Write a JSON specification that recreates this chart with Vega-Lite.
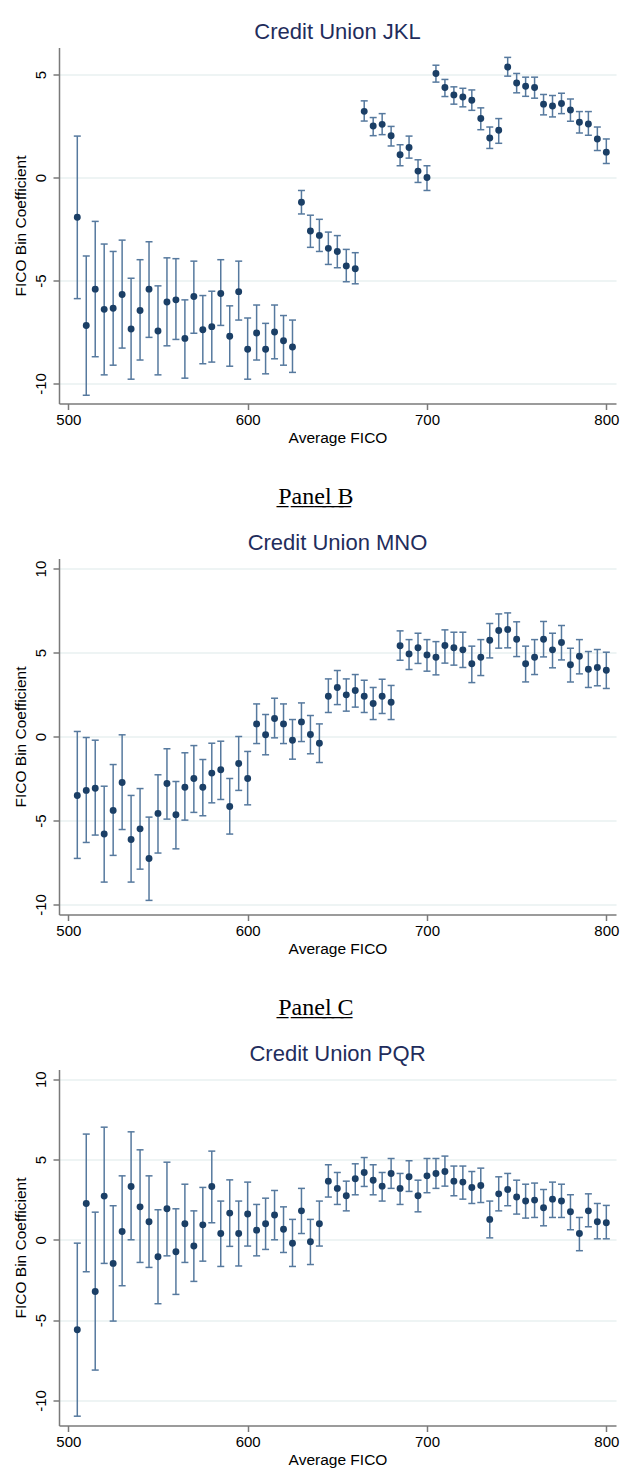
{
  "$schema": "https://vega.github.io/schema/vega-lite/v6.json",
  "padding": {"left": 12, "top": 20.5, "right": 4, "bottom": 4},
  "background": "white",
  "spacing": 38,
  "datasets": {
    "A": [
      {"f":505,"b":-1.93,"lo":-5.88,"hi":2.01},{"f":510,"b":-7.18,"lo":-10.57,"hi":-3.81},{"f":515,"b":-5.42,"lo":-8.70,"hi":-2.13},{"f":520,"b":-6.40,"lo":-9.58,"hi":-3.23},{"f":525,"b":-6.35,"lo":-9.11,"hi":-3.59},{"f":530,"b":-5.68,"lo":-8.28,"hi":-3.04},{"f":535,"b":-7.35,"lo":-9.79,"hi":-4.89},{"f":540,"b":-6.46,"lo":-8.86,"hi":-3.99},{"f":545,"b":-5.42,"lo":-7.76,"hi":-3.12},{"f":550,"b":-7.45,"lo":-9.58,"hi":-5.26},{"f":555,"b":-6.04,"lo":-8.17,"hi":-3.90},{"f":560,"b":-5.94,"lo":-7.86,"hi":-3.94},{"f":565,"b":-7.81,"lo":-9.74,"hi":-5.94},{"f":570,"b":-5.78,"lo":-7.56,"hi":-4.06},{"f":575,"b":-7.39,"lo":-9.04,"hi":-5.73},{"f":580,"b":-7.24,"lo":-8.96,"hi":-5.52},{"f":585,"b":-5.63,"lo":-7.18,"hi":-3.99},{"f":590,"b":-7.71,"lo":-9.16,"hi":-6.23},{"f":595,"b":-5.54,"lo":-6.92,"hi":-4.06},{"f":600,"b":-8.34,"lo":-9.79,"hi":-6.82},{"f":605,"b":-7.55,"lo":-8.86,"hi":-6.19},{"f":610,"b":-8.34,"lo":-9.53,"hi":-7.08},{"f":615,"b":-7.50,"lo":-8.80,"hi":-6.19},{"f":620,"b":-7.92,"lo":-9.11,"hi":-6.70},{"f":625,"b":-8.23,"lo":-9.46,"hi":-6.92},
      {"f":630,"b":-1.20,"lo":-1.77,"hi":-0.63},{"f":635,"b":-2.60,"lo":-3.39,"hi":-1.83},{"f":640,"b":-2.81,"lo":-3.59,"hi":-2.03},{"f":645,"b":-3.44,"lo":-4.22,"hi":-2.65},{"f":650,"b":-3.59,"lo":-4.38,"hi":-2.82},{"f":655,"b":-4.29,"lo":-5.06,"hi":-3.49},{"f":660,"b":-4.43,"lo":-5.16,"hi":-3.65},
      {"f":665,"b":3.21,"lo":2.74,"hi":3.72},{"f":670,"b":2.50,"lo":2.03,"hi":2.91},{"f":675,"b":2.58,"lo":2.08,"hi":3.10},{"f":680,"b":2.03,"lo":1.53,"hi":2.48},{"f":685,"b":1.10,"lo":0.57,"hi":1.59},{"f":690,"b":1.46,"lo":0.94,"hi":2.01},{"f":695,"b":0.31,"lo":-0.24,"hi":0.86},{"f":700,"b":0.00,"lo":-0.63,"hi":0.57},
      {"f":705,"b":5.05,"lo":4.63,"hi":5.45},{"f":710,"b":4.37,"lo":3.93,"hi":4.76},{"f":715,"b":4.01,"lo":3.56,"hi":4.40},{"f":720,"b":3.91,"lo":3.43,"hi":4.33},{"f":725,"b":3.75,"lo":3.26,"hi":4.25},{"f":730,"b":2.86,"lo":2.32,"hi":3.38},{"f":735,"b":1.92,"lo":1.41,"hi":2.45},{"f":740,"b":2.29,"lo":1.66,"hi":2.86},
      {"f":745,"b":5.36,"lo":4.92,"hi":5.83},{"f":750,"b":4.59,"lo":4.11,"hi":5.05},{"f":755,"b":4.43,"lo":3.94,"hi":4.87},{"f":760,"b":4.37,"lo":3.85,"hi":4.87},{"f":765,"b":3.56,"lo":3.04,"hi":4.03},{"f":770,"b":3.47,"lo":2.94,"hi":3.98},{"f":775,"b":3.59,"lo":3.10,"hi":4.09},{"f":780,"b":3.28,"lo":2.73,"hi":3.81},{"f":785,"b":2.68,"lo":2.16,"hi":3.20},{"f":790,"b":2.60,"lo":2.05,"hi":3.20},{"f":795,"b":1.87,"lo":1.31,"hi":2.45},{"f":800,"b":1.23,"lo":0.68,"hi":1.87}
    ],
    "B": [
      {"f":505,"b":-3.51,"lo":-7.26,"hi":0.30},{"f":510,"b":-3.21,"lo":-6.31,"hi":-0.06},{"f":515,"b":-3.08,"lo":-5.87,"hi":-0.22},{"f":520,"b":-5.81,"lo":-8.67,"hi":-2.96},{"f":525,"b":-4.40,"lo":-7.08,"hi":-1.67},{"f":530,"b":-2.74,"lo":-5.54,"hi":0.10},{"f":535,"b":-6.13,"lo":-8.67,"hi":-3.51},{"f":540,"b":-5.50,"lo":-7.90,"hi":-3.10},{"f":545,"b":-7.26,"lo":-9.76,"hi":-4.80},{"f":550,"b":-4.58,"lo":-6.94,"hi":-2.28},{"f":555,"b":-2.80,"lo":-4.92,"hi":-0.73},{"f":560,"b":-4.66,"lo":-6.69,"hi":-2.68},{"f":565,"b":-3.02,"lo":-4.98,"hi":-0.97},{"f":570,"b":-2.50,"lo":-4.52,"hi":-0.54},{"f":575,"b":-3.02,"lo":-4.72,"hi":-1.37},{"f":580,"b":-2.18,"lo":-3.95,"hi":-0.40},{"f":585,"b":-1.98,"lo":-3.75,"hi":-0.28},{"f":590,"b":-4.17,"lo":-5.81,"hi":-2.50},{"f":595,"b":-1.61,"lo":-3.21,"hi":0.00},{"f":600,"b":-2.50,"lo":-4.07,"hi":-0.89},
      {"f":605,"b":0.75,"lo":-0.42,"hi":1.94},{"f":610,"b":0.10,"lo":-1.09,"hi":1.31},{"f":615,"b":1.07,"lo":-0.08,"hi":2.28},{"f":620,"b":0.75,"lo":-0.42,"hi":1.94},{"f":625,"b":-0.22,"lo":-1.35,"hi":1.01},{"f":630,"b":0.87,"lo":-0.30,"hi":2.00},{"f":635,"b":0.12,"lo":-1.03,"hi":1.25},{"f":640,"b":-0.40,"lo":-1.55,"hi":0.75},
      {"f":645,"b":2.40,"lo":1.43,"hi":3.43},{"f":650,"b":2.92,"lo":1.90,"hi":3.93},{"f":655,"b":2.48,"lo":1.51,"hi":3.43},{"f":660,"b":2.74,"lo":1.75,"hi":3.69},{"f":665,"b":2.40,"lo":1.43,"hi":3.35},{"f":670,"b":1.96,"lo":1.01,"hi":2.92},{"f":675,"b":2.40,"lo":1.37,"hi":3.41},{"f":680,"b":2.04,"lo":1.01,"hi":3.04},
      {"f":685,"b":5.40,"lo":4.54,"hi":6.29},{"f":690,"b":4.92,"lo":3.99,"hi":5.77},{"f":695,"b":5.28,"lo":4.35,"hi":6.15},{"f":700,"b":4.86,"lo":3.89,"hi":5.77},{"f":705,"b":4.72,"lo":3.67,"hi":5.65},{"f":710,"b":5.42,"lo":4.37,"hi":6.35},{"f":715,"b":5.28,"lo":4.25,"hi":6.21},{"f":720,"b":5.16,"lo":4.11,"hi":6.21},{"f":725,"b":4.33,"lo":3.21,"hi":5.38},{"f":730,"b":4.72,"lo":3.63,"hi":5.77},{"f":735,"b":5.73,"lo":4.68,"hi":6.73},{"f":740,"b":6.31,"lo":5.26,"hi":7.30},{"f":745,"b":6.37,"lo":5.28,"hi":7.36},{"f":750,"b":5.79,"lo":4.76,"hi":6.83},{"f":755,"b":4.33,"lo":3.25,"hi":5.38},{"f":760,"b":4.72,"lo":3.69,"hi":5.77},{"f":765,"b":5.79,"lo":4.74,"hi":6.85},{"f":770,"b":5.16,"lo":4.09,"hi":6.15},{"f":775,"b":5.60,"lo":4.56,"hi":6.61},{"f":780,"b":4.27,"lo":3.25,"hi":5.26},{"f":785,"b":4.78,"lo":3.73,"hi":5.77},{"f":790,"b":4.01,"lo":2.92,"hi":5.06},{"f":795,"b":4.11,"lo":3.02,"hi":5.18},{"f":800,"b":3.95,"lo":2.86,"hi":5.02}
    ],
    "C": [
      {"f":505,"b":-5.60,"lo":-10.98,"hi":-0.21},{"f":510,"b":2.26,"lo":-1.99,"hi":6.58},{"f":515,"b":-3.22,"lo":-8.11,"hi":1.72},{"f":520,"b":2.72,"lo":-1.47,"hi":7.01},{"f":525,"b":-1.47,"lo":-5.06,"hi":2.12},{"f":530,"b":0.52,"lo":-2.86,"hi":3.98},{"f":535,"b":3.32,"lo":0.00,"hi":6.72},{"f":540,"b":2.05,"lo":-1.41,"hi":5.60},{"f":545,"b":1.12,"lo":-1.72,"hi":3.98},{"f":550,"b":-1.06,"lo":-3.98,"hi":1.87},{"f":555,"b":1.93,"lo":-1.00,"hi":4.83},{"f":560,"b":-0.75,"lo":-3.40,"hi":1.93},{"f":565,"b":1.00,"lo":-1.41,"hi":3.46},{"f":570,"b":-0.39,"lo":-2.59,"hi":1.80},{"f":575,"b":0.93,"lo":-1.33,"hi":3.26},{"f":580,"b":3.32,"lo":1.06,"hi":5.52},{"f":585,"b":0.39,"lo":-1.66,"hi":2.41},{"f":590,"b":1.66,"lo":-0.41,"hi":3.73},{"f":595,"b":0.39,"lo":-1.63,"hi":2.41},{"f":600,"b":1.60,"lo":-0.39,"hi":3.59},
      {"f":605,"b":0.60,"lo":-1.00,"hi":2.20},{"f":610,"b":1.00,"lo":-0.60,"hi":2.59},{"f":615,"b":1.54,"lo":0.00,"hi":3.07},{"f":620,"b":0.66,"lo":-0.79,"hi":2.05},{"f":625,"b":-0.21,"lo":-1.66,"hi":1.27},{"f":630,"b":1.80,"lo":0.39,"hi":3.20},{"f":635,"b":-0.12,"lo":-1.54,"hi":1.27},{"f":640,"b":1.00,"lo":-0.39,"hi":2.41},
      {"f":645,"b":3.65,"lo":2.66,"hi":4.67},{"f":650,"b":3.20,"lo":2.20,"hi":4.19},{"f":655,"b":2.74,"lo":1.80,"hi":3.65},{"f":660,"b":3.80,"lo":2.80,"hi":4.73},{"f":665,"b":4.19,"lo":3.32,"hi":5.12},{"f":670,"b":3.71,"lo":2.80,"hi":4.67},{"f":675,"b":3.34,"lo":2.41,"hi":4.19},{"f":680,"b":4.13,"lo":3.20,"hi":5.06},{"f":685,"b":3.20,"lo":2.20,"hi":4.13},{"f":690,"b":3.92,"lo":3.01,"hi":4.92},{"f":695,"b":2.74,"lo":1.74,"hi":3.71},{"f":700,"b":3.98,"lo":2.93,"hi":5.06},{"f":705,"b":4.13,"lo":3.20,"hi":5.06},{"f":710,"b":4.25,"lo":3.34,"hi":5.21},{"f":715,"b":3.65,"lo":2.74,"hi":4.59},{"f":720,"b":3.59,"lo":2.53,"hi":4.59},{"f":725,"b":3.26,"lo":2.26,"hi":4.25},{"f":730,"b":3.38,"lo":2.32,"hi":4.46},{"f":735,"b":1.27,"lo":0.12,"hi":2.41},{"f":740,"b":2.86,"lo":1.80,"hi":3.92},{"f":745,"b":3.13,"lo":2.12,"hi":4.13},{"f":750,"b":2.66,"lo":1.60,"hi":3.71},{"f":755,"b":2.41,"lo":1.35,"hi":3.46},{"f":760,"b":2.47,"lo":1.39,"hi":3.53},{"f":765,"b":1.99,"lo":0.87,"hi":3.13},{"f":770,"b":2.53,"lo":1.39,"hi":3.59},{"f":775,"b":2.41,"lo":1.39,"hi":3.46},{"f":780,"b":1.74,"lo":0.62,"hi":2.80},{"f":785,"b":0.39,"lo":-0.68,"hi":1.39},{"f":790,"b":1.80,"lo":0.81,"hi":2.86},{"f":795,"b":1.12,"lo":0.06,"hi":2.26},{"f":800,"b":1.06,"lo":0.06,"hi":2.14}
    ]
  },
  "vconcat": [
    {
      "width": 557, "height": 356,
      "title": "Credit Union JKL",
      "data": {"name": "A"},
      "encoding": {"x": {"field": "f", "type": "quantitative", "scale": {"domain": [494.8, 805.4], "nice": false, "zero": false}, "axis": {"values": [500, 600, 700, 800], "title": "Average FICO"}}},
      "layer": [
        {"mark": {"type": "rule", "color": "#56799e", "strokeWidth": 1.5}, "encoding": {"y": {"field": "lo", "type": "quantitative", "scale": {"domain": [-10.97, 6.31], "nice": false, "zero": false}, "axis": {"values": [-10, -5, 0, 5], "title": "FICO Bin Coefficient", "labelExpr": "'' + datum.value"}}, "y2": {"field": "hi"}}},
        {"mark": {"type": "tick", "orient": "horizontal", "size": 7, "thickness": 1.5, "color": "#56799e", "opacity": 1}, "encoding": {"y": {"field": "lo", "type": "quantitative"}}},
        {"mark": {"type": "tick", "orient": "horizontal", "size": 7, "thickness": 1.5, "color": "#56799e", "opacity": 1}, "encoding": {"y": {"field": "hi", "type": "quantitative"}}},
        {"mark": {"type": "point", "filled": true, "size": 48, "color": "#1b3f66", "opacity": 1}, "encoding": {"y": {"field": "b", "type": "quantitative"}}}
      ]
    },
    {
      "title": {"text": "P̲a̲n̲e̲l̲ ̲B̲", "anchor": "middle", "font": "Liberation Serif", "fontSize": 24, "color": "#000000", "baseline": "alphabetic", "offset": 4.5},
      "vconcat": [
        {
          "width": 557, "height": 356,
          "title": "Credit Union MNO",
          "data": {"name": "B"},
          "encoding": {"x": {"field": "f", "type": "quantitative", "scale": {"domain": [494.8, 805.4], "nice": false, "zero": false}, "axis": {"values": [500, 600, 700, 800], "title": "Average FICO"}}},
          "layer": [
            {"mark": {"type": "rule", "color": "#56799e", "strokeWidth": 1.5}, "encoding": {"y": {"field": "lo", "type": "quantitative", "scale": {"domain": [-10.6, 10.6], "nice": false, "zero": false}, "axis": {"values": [-10, -5, 0, 5, 10], "title": "FICO Bin Coefficient", "labelExpr": "'' + datum.value"}}, "y2": {"field": "hi"}}},
            {"mark": {"type": "tick", "orient": "horizontal", "size": 7, "thickness": 1.5, "color": "#56799e", "opacity": 1}, "encoding": {"y": {"field": "lo", "type": "quantitative"}}},
            {"mark": {"type": "tick", "orient": "horizontal", "size": 7, "thickness": 1.5, "color": "#56799e", "opacity": 1}, "encoding": {"y": {"field": "hi", "type": "quantitative"}}},
            {"mark": {"type": "point", "filled": true, "size": 48, "color": "#1b3f66", "opacity": 1}, "encoding": {"y": {"field": "b", "type": "quantitative"}}}
          ]
        }
      ]
    },
    {
      "title": {"text": "P̲a̲n̲e̲l̲ ̲C̲", "anchor": "middle", "font": "Liberation Serif", "fontSize": 24, "color": "#000000", "baseline": "alphabetic", "offset": 4.5},
      "vconcat": [
        {
          "width": 557, "height": 356,
          "title": "Credit Union PQR",
          "data": {"name": "C"},
          "encoding": {"x": {"field": "f", "type": "quantitative", "scale": {"domain": [494.8, 805.4], "nice": false, "zero": false}, "axis": {"values": [500, 600, 700, 800], "title": "Average FICO"}}},
          "layer": [
            {"mark": {"type": "rule", "color": "#56799e", "strokeWidth": 1.5}, "encoding": {"y": {"field": "lo", "type": "quantitative", "scale": {"domain": [-11.56, 10.6], "nice": false, "zero": false}, "axis": {"values": [-10, -5, 0, 5, 10], "title": "FICO Bin Coefficient", "labelExpr": "'' + datum.value"}}, "y2": {"field": "hi"}}},
            {"mark": {"type": "tick", "orient": "horizontal", "size": 7, "thickness": 1.5, "color": "#56799e", "opacity": 1}, "encoding": {"y": {"field": "lo", "type": "quantitative"}}},
            {"mark": {"type": "tick", "orient": "horizontal", "size": 7, "thickness": 1.5, "color": "#56799e", "opacity": 1}, "encoding": {"y": {"field": "hi", "type": "quantitative"}}},
            {"mark": {"type": "point", "filled": true, "size": 48, "color": "#1b3f66", "opacity": 1}, "encoding": {"y": {"field": "b", "type": "quantitative"}}}
          ]
        }
      ]
    }
  ],
  "config": {
    "font": "Liberation Sans",
    "view": {"stroke": null},
    "axis": {"domainColor": "#7a7a7a", "domainWidth": 1.5, "tickColor": "#7a7a7a", "tickWidth": 1.5, "tickSize": 6, "labelFont": "Liberation Sans", "labelFontSize": 15, "labelColor": "#000000", "titleFont": "Liberation Sans", "titleFontSize": 15.5, "titleFontWeight": "normal", "titleColor": "#000000", "grid": false},
    "axisY": {"grid": true, "gridColor": "#e8f0f0", "gridWidth": 1.5, "labelAngle": 270, "labelAlign": "center", "labelBaseline": "bottom", "labelPadding": 5, "titlePadding": 5},
    "axisX": {"labelPadding": 3, "titlePadding": 3},
    "title": {"font": "Liberation Sans", "fontSize": 22, "fontWeight": "normal", "color": "#1f2d5c", "baseline": "alphabetic", "offset": 3.3, "anchor": "middle"}
  }
}
